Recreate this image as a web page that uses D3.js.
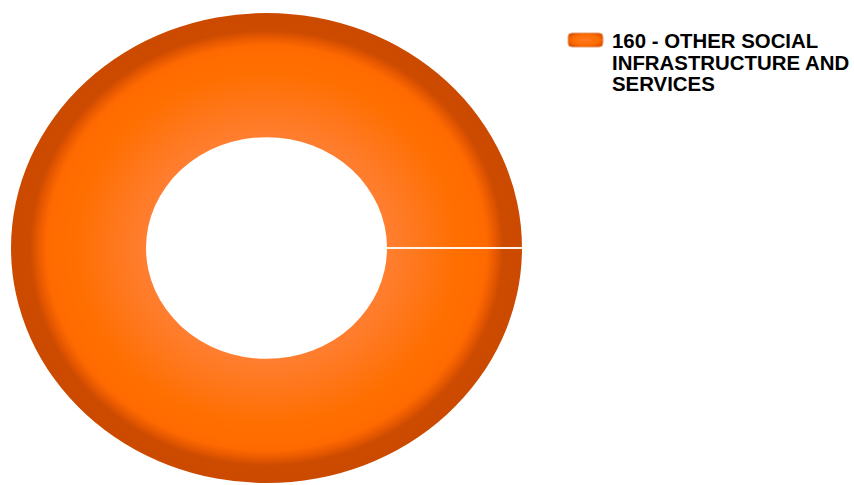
<!DOCTYPE html>
<html>
<head>
<meta charset="utf-8">
<script src="https://cdn.jsdelivr.net/npm/d3@7"></script>
<style>
  html, body { margin: 0; padding: 0; background: #ffffff; }
  svg { display: block; }
</style>
</head>
<body>
<svg id="chart" width="854" height="485"></svg>
<script>
const categories = ["160 - OTHER SOCIAL INFRASTRUCTURE AND SERVICES"];
const values = [100];
const legendLines = ["160 - OTHER SOCIAL", "INFRASTRUCTURE AND", "SERVICES"];

const svg = d3.select("#chart");
const cx = 266.5, cy = 248, outerR = 255.5, innerR = 120.5, yScale = 0.92;
const startA = Math.PI / 2;

const defs = svg.append("defs");
const grad = defs.append("radialGradient")
  .attr("id", "sliceGrad")
  .attr("gradientUnits", "userSpaceOnUse")
  .attr("cx", 0).attr("cy", 0).attr("r", outerR);
[
  [0, "#ff9050"], [0.47, "#ff7e30"], [0.62, "#ff7618"], [0.75, "#ff6f00"],
  [0.86, "#ff6a00"], [0.895, "#e85900"], [0.925, "#cd4b00"], [1, "#cc4a00"]
].forEach(([o, c]) => grad.append("stop").attr("offset", o).attr("stop-color", c));

const swGrad = defs.append("radialGradient").attr("id", "swatchGrad")
  .attr("cx", "50%").attr("cy", "50%").attr("r", "60%");
[[0, "#ff7a28"], [0.6, "#ff6c00"], [1, "#d84f00"]]
  .forEach(([o, c]) => swGrad.append("stop").attr("offset", o).attr("stop-color", c));

const pie = d3.pie().sort(null).startAngle(startA).endAngle(startA + 2 * Math.PI);
const arcs = pie(values);
const arc = d3.arc().innerRadius(innerR).outerRadius(outerR);

const g = svg.append("g")
  .attr("transform", `translate(${cx},${cy}) scale(1,${yScale})`);

g.selectAll("path.slice").data(arcs).join("path")
  .attr("class", "slice")
  .attr("d", arc)
  .attr("fill", "url(#sliceGrad)");

// slice boundary (seam) at each slice's start angle
g.selectAll("line.seam").data(arcs).join("line")
  .attr("class", "seam")
  .attr("x1", d => innerR * Math.sin(d.startAngle))
  .attr("y1", d => -innerR * Math.cos(d.startAngle))
  .attr("x2", d => outerR * Math.sin(d.startAngle))
  .attr("y2", d => -outerR * Math.cos(d.startAngle))
  .attr("stroke", "#fff3ea")
  .attr("stroke-width", 2.2);

// legend
const lg = svg.append("g").attr("transform", "translate(568,33)");
lg.append("rect")
  .attr("x", 0).attr("y", 0).attr("width", 35).attr("height", 14)
  .attr("rx", 4).attr("ry", 4)
  .attr("fill", "url(#swatchGrad)")
  .attr("stroke", "#e8a070").attr("stroke-width", 1);
const txt = lg.append("text")
  .attr("x", 44).attr("y", 15)
  .attr("font-family", "'Liberation Sans', Arial, sans-serif")
  .attr("font-weight", "bold")
  .attr("font-size", "20.4px")
  .attr("fill", "#000");
txt.selectAll("tspan").data(legendLines).join("tspan")
  .attr("x", 44)
  .attr("dy", (d, i) => i === 0 ? 0 : 21.5)
  .text(d => d);
</script>
</body>
</html>
